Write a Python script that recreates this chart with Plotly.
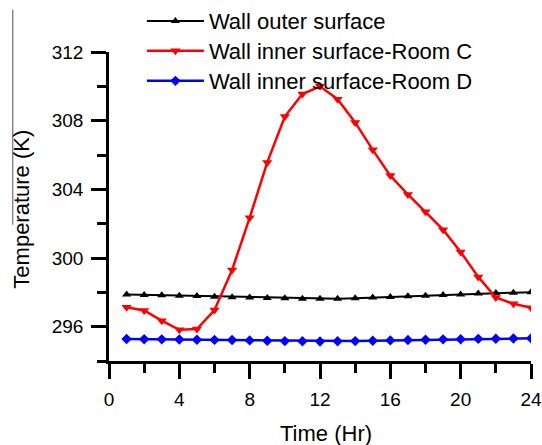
import plotly.graph_objects as go

hours = list(range(1, 25))

wall_outer = [297.87, 297.85, 297.83, 297.80, 297.78, 297.75, 297.72, 297.70,
              297.67, 297.65, 297.63, 297.62, 297.63, 297.66, 297.70, 297.73,
              297.77, 297.80, 297.84, 297.88, 297.93, 297.96, 297.98, 298.00]

room_c = [297.13, 296.94, 296.35, 295.82, 295.86, 296.97, 299.30, 302.35,
          305.57, 308.24, 309.55, 310.00, 309.25, 307.90, 306.30, 304.80,
          303.70, 302.70, 301.65, 300.35, 298.90, 297.70, 297.33, 297.10]

room_d = [295.28, 295.27, 295.26, 295.25, 295.24, 295.23, 295.22, 295.20,
          295.18, 295.16, 295.15, 295.14, 295.15, 295.16, 295.18, 295.20,
          295.22, 295.24, 295.26, 295.27, 295.29, 295.30, 295.31, 295.32]

names = ["Wall outer surface", "Wall inner surface-Room C", "Wall inner surface-Room D"]

x_ticks = [0, 4, 8, 12, 16, 20, 24]
y_ticks = [296, 300, 304, 308, 312]

FONT = "Liberation Sans, Arial, sans-serif"

fig = go.Figure()
fig.add_trace(go.Scatter(x=hours, y=wall_outer, name=names[0], mode="lines+markers",
                         legend="legend",
                         line=dict(color="black", width=2),
                         marker=dict(symbol="triangle-up", size=8, color="black")))
fig.add_trace(go.Scatter(x=hours, y=room_c, name=names[1], mode="lines+markers",
                         legend="legend2",
                         line=dict(color="#ff0000", width=2.5),
                         marker=dict(symbol="triangle-down", size=9, color="#ff0000")))
fig.add_trace(go.Scatter(x=hours, y=room_d, name=names[2], mode="lines+markers",
                         legend="legend3",
                         line=dict(color="#0000ff", width=2.5),
                         marker=dict(symbol="diamond", size=8, color="#0000ff")))

axis_common = dict(showgrid=False, zeroline=False, showline=True, linecolor="black",
                   linewidth=2.5, ticks="outside", ticklen=15, tickwidth=2.5,
                   tickcolor="black", tickfont=dict(family=FONT, size=19, color="black"))

fig.update_xaxes(range=[0, 24], tickvals=x_ticks, ticklabelstandoff=4,
                 minor=dict(dtick=2, tick0=0, ticks="outside", ticklen=9,
                            tickwidth=2.5, tickcolor="black", showgrid=False),
                 **axis_common)
fig.update_yaxes(range=[294, 312], tickvals=y_ticks, ticklabelstandoff=4,
                 minor=dict(dtick=2, tick0=294, ticks="outside", ticklen=9,
                            tickwidth=2.5, tickcolor="black", showgrid=False),
                 **axis_common)

legend_common = dict(x=0.078, xanchor="left", yanchor="top", bgcolor="rgba(0,0,0,0)",
                     font=dict(family=FONT, size=22, color="black"), itemwidth=57)

fig.update_layout(
    width=542, height=445,
    margin=dict(l=109, r=11, t=52, b=84, autoexpand=False),
    plot_bgcolor="white", paper_bgcolor="white",
    font=dict(family=FONT, color="black"),
    showlegend=True,
    legend=dict(y=1.168, **legend_common),
    legend2=dict(y=1.071, **legend_common),
    legend3=dict(y=0.974, **legend_common),
    annotations=[
        dict(text="Time (Hr)", x=0.514, y=-0.235, xref="paper", yref="paper",
             showarrow=False, xanchor="center", yanchor="middle",
             font=dict(family=FONT, size=22, color="black")),
        dict(text="Temperature (K)", x=-0.206, y=0.49, xref="paper", yref="paper",
             showarrow=False, xanchor="center", yanchor="middle", textangle=-90,
             font=dict(family=FONT, size=22, color="black")),
    ],
    shapes=[dict(type="line", xref="paper", yref="paper", x0=-0.228, x1=-0.228,
                 y0=0.441, y1=1.137, line=dict(color="#555555", width=1))],
)

fig.write_html("out.html", config={"displayModeBar": False},
               post_script="document.body.style.margin='0';"
                           "document.body.style.overflow='hidden';")
